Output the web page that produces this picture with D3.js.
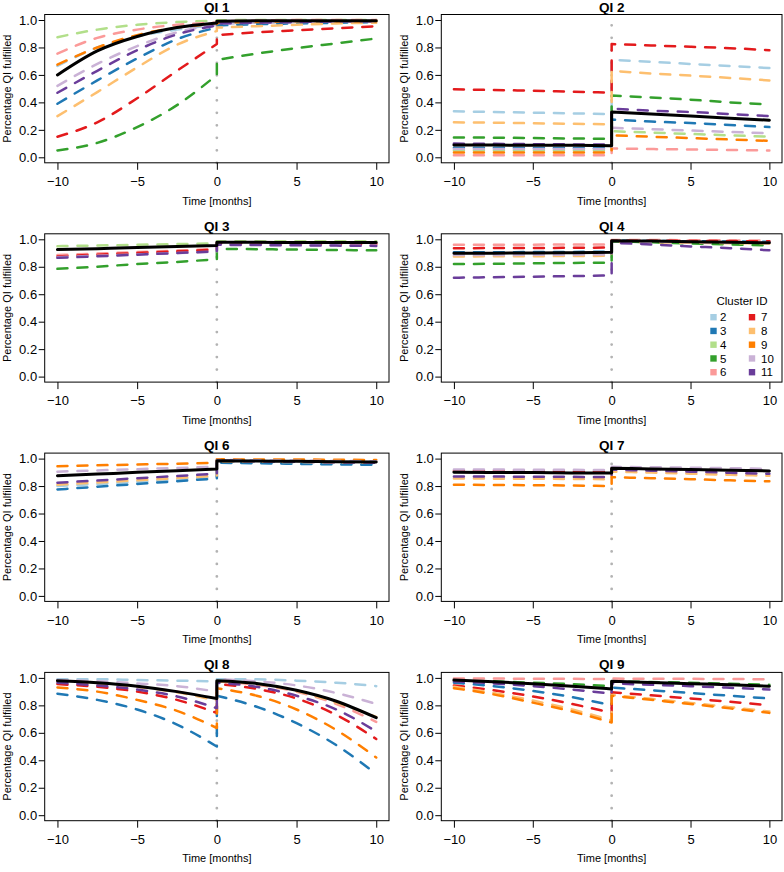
<!DOCTYPE html>
<html>
<head>
<meta charset="utf-8">
<script src="https://cdn.jsdelivr.net/npm/d3@7"></script>
<style>
  body { margin: 0; background: #fff; }
  text { font-family: "Liberation Sans", Arial, Helvetica, sans-serif; fill: #000; }
</style>
</head>
<body>
<svg id="chart"></svg>
<script>
// time points of the read-off values, before and after the change at t = 0
var timePre = [-10, -7.5, -5, -2.5, 0];
var timePost = [0, 2.5, 5, 7.5, 10];

var clusterIds = [2, 3, 4, 5, 6, 7, 8, 9, 10, 11];
var clusterColors = ["#a6cee3", "#1f78b4", "#b2df8a", "#33a02c", "#fb9a99",
                     "#e31a1c", "#fdbf6f", "#ff7f00", "#cab2d6", "#6a3d9a"];

var panelTitles = ["QI 1", "QI 2", "QI 3", "QI 4", "QI 6", "QI 7", "QI 8", "QI 9"];
var xTicks = [-10, -5, 0, 5, 10];
var yTicks = [0, 0.2, 0.4, 0.6, 0.8, 1.0];

// [cluster, values before, values after]; "all" = overall (black) line
var qi1 = [
  [2,  [0.665, 0.80, 0.88, 0.93, 0.965], [0.975, 0.98, 0.985, 0.99, 0.99]],
  [3,  [0.39, 0.56, 0.72, 0.86, 0.945],  [0.96, 0.97, 0.975, 0.98, 0.985]],
  [4,  [0.875, 0.93, 0.965, 0.985, 0.995], [0.998, 1.0, 1.0, 1.0, 1.0]],
  [5,  [0.05, 0.105, 0.22, 0.38, 0.60],  [0.71, 0.755, 0.795, 0.83, 0.865]],
  [6,  [0.755, 0.87, 0.93, 0.965, 0.98], [0.99, 0.995, 1.0, 1.0, 1.0]],
  [7,  [0.15, 0.255, 0.43, 0.63, 0.825], [0.89, 0.91, 0.925, 0.94, 0.955]],
  [8,  [0.30, 0.475, 0.655, 0.82, 0.92], [0.945, 0.955, 0.965, 0.975, 0.98]],
  [9,  [0.675, 0.80, 0.89, 0.945, 0.97], [0.98, 0.985, 0.99, 0.99, 0.99]],
  [10, [0.52, 0.68, 0.81, 0.91, 0.965],  [0.975, 0.98, 0.985, 0.99, 0.99]],
  [11, [0.47, 0.63, 0.78, 0.895, 0.96],  [0.975, 0.98, 0.985, 0.99, 0.99]],
  ["all", [0.60, 0.775, 0.88, 0.945, 0.978], [0.99, 0.994, 0.995, 0.995, 0.995]]
];

var qi2 = [
  [2,  [0.335, 0.33, 0.325, 0.32, 0.315], [0.71, 0.695, 0.68, 0.665, 0.65]],
  [3,  [0.07, 0.07, 0.068, 0.067, 0.065], [0.275, 0.26, 0.25, 0.235, 0.22]],
  [4,  [0.05, 0.05, 0.05, 0.05, 0.05],    [0.19, 0.18, 0.17, 0.16, 0.15]],
  [5,  [0.145, 0.143, 0.14, 0.137, 0.135], [0.45, 0.435, 0.42, 0.40, 0.385]],
  [6,  [0.015, 0.015, 0.015, 0.015, 0.015], [0.065, 0.06, 0.057, 0.053, 0.05]],
  [7,  [0.495, 0.49, 0.485, 0.478, 0.47], [0.825, 0.815, 0.805, 0.795, 0.78]],
  [8,  [0.255, 0.252, 0.248, 0.244, 0.24], [0.63, 0.61, 0.595, 0.578, 0.56]],
  [9,  [0.035, 0.035, 0.035, 0.035, 0.035], [0.16, 0.15, 0.14, 0.13, 0.12]],
  [10, [0.06, 0.06, 0.06, 0.06, 0.06],    [0.215, 0.205, 0.195, 0.185, 0.175]],
  [11, [0.10, 0.098, 0.096, 0.094, 0.092], [0.355, 0.34, 0.33, 0.315, 0.30]],
  ["all", [0.09, 0.089, 0.088, 0.087, 0.085], [0.33, 0.315, 0.30, 0.285, 0.27]]
];

var qi3 = [
  [4,  [0.95, 0.955, 0.96, 0.965, 0.97],  [0.985, 0.985, 0.985, 0.985, 0.985]],
  [5,  [0.785, 0.80, 0.82, 0.835, 0.855], [0.93, 0.928, 0.925, 0.922, 0.92]],
  [6,  [0.885, 0.896, 0.907, 0.918, 0.93], [0.975, 0.974, 0.973, 0.972, 0.97]],
  [7,  [0.875, 0.888, 0.90, 0.912, 0.925], [0.97, 0.97, 0.968, 0.967, 0.965]],
  [10, [0.87, 0.88, 0.89, 0.90, 0.91],    [0.962, 0.96, 0.958, 0.956, 0.955]],
  [11, [0.865, 0.876, 0.888, 0.90, 0.912], [0.96, 0.958, 0.956, 0.954, 0.952]],
  ["all", [0.925, 0.932, 0.94, 0.947, 0.955], [0.978, 0.978, 0.977, 0.977, 0.976]]
];

var qi4 = [
  [3,  [0.905, 0.906, 0.907, 0.908, 0.91], [0.99, 0.988, 0.986, 0.984, 0.982]],
  [5,  [0.82, 0.822, 0.825, 0.828, 0.83],  [0.985, 0.978, 0.97, 0.962, 0.955]],
  [6,  [0.96, 0.96, 0.961, 0.962, 0.963],  [0.995, 0.995, 0.993, 0.992, 0.99]],
  [7,  [0.935, 0.936, 0.937, 0.938, 0.94], [0.99, 0.99, 0.988, 0.987, 0.985]],
  [8,  [0.875, 0.876, 0.877, 0.878, 0.88], [0.98, 0.977, 0.975, 0.972, 0.97]],
  [10, [0.885, 0.886, 0.887, 0.888, 0.89], [0.985, 0.982, 0.98, 0.977, 0.975]],
  [11, [0.72, 0.724, 0.728, 0.732, 0.737], [0.975, 0.962, 0.948, 0.935, 0.92]],
  ["all", [0.898, 0.899, 0.90, 0.902, 0.905], [0.99, 0.987, 0.983, 0.979, 0.975]]
];

var qi6 = [
  [2,  [0.80, 0.815, 0.83, 0.848, 0.865],  [0.975, 0.97, 0.965, 0.96, 0.96]],
  [3,  [0.775, 0.795, 0.815, 0.835, 0.855], [0.97, 0.966, 0.962, 0.958, 0.955]],
  [8,  [0.81, 0.826, 0.842, 0.858, 0.875],  [0.98, 0.978, 0.975, 0.972, 0.97]],
  [9,  [0.945, 0.951, 0.957, 0.963, 0.97],  [0.995, 0.994, 0.993, 0.992, 0.99]],
  [10, [0.905, 0.914, 0.923, 0.932, 0.94],  [0.99, 0.988, 0.985, 0.983, 0.98]],
  [11, [0.825, 0.84, 0.857, 0.873, 0.89],   [0.985, 0.98, 0.977, 0.973, 0.97]],
  ["all", [0.875, 0.887, 0.90, 0.912, 0.925], [0.985, 0.982, 0.98, 0.977, 0.975]]
];

var qi7 = [
  [7,  [0.91, 0.909, 0.908, 0.907, 0.905], [0.93, 0.926, 0.922, 0.918, 0.915]],
  [8,  [0.855, 0.854, 0.853, 0.852, 0.85], [0.905, 0.898, 0.89, 0.882, 0.875]],
  [9,  [0.81, 0.808, 0.806, 0.804, 0.80],  [0.865, 0.857, 0.85, 0.842, 0.835]],
  [10, [0.92, 0.92, 0.919, 0.918, 0.917],  [0.94, 0.937, 0.934, 0.93, 0.926]],
  [11, [0.87, 0.869, 0.868, 0.867, 0.865], [0.92, 0.912, 0.905, 0.897, 0.89]],
  ["all", [0.90, 0.899, 0.898, 0.896, 0.895], [0.93, 0.925, 0.92, 0.915, 0.91]]
];

var qi8 = [
  [2,  [0.99, 0.99, 0.985, 0.98, 0.975],  [0.99, 0.99, 0.98, 0.965, 0.94]],
  [3,  [0.885, 0.84, 0.77, 0.66, 0.50],   [0.87, 0.79, 0.67, 0.51, 0.30]],
  [6,  [0.975, 0.96, 0.935, 0.90, 0.84],  [0.975, 0.95, 0.90, 0.81, 0.68]],
  [7,  [0.955, 0.935, 0.90, 0.84, 0.745], [0.955, 0.92, 0.85, 0.73, 0.555]],
  [8,  [0.975, 0.96, 0.935, 0.895, 0.835], [0.975, 0.955, 0.905, 0.82, 0.715]],
  [9,  [0.93, 0.90, 0.84, 0.76, 0.635],   [0.925, 0.87, 0.77, 0.62, 0.42]],
  [10, [0.985, 0.975, 0.96, 0.94, 0.90],  [0.99, 0.975, 0.945, 0.89, 0.81]],
  [11, [0.965, 0.945, 0.915, 0.865, 0.78], [0.965, 0.935, 0.87, 0.77, 0.61]],
  ["all", [0.98, 0.965, 0.94, 0.90, 0.85], [0.98, 0.96, 0.91, 0.83, 0.71]]
];

var qi9 = [
  [3,  [0.965, 0.94, 0.905, 0.86, 0.80],  [0.93, 0.91, 0.89, 0.87, 0.85]],
  [5,  [0.98, 0.975, 0.965, 0.955, 0.94], [0.975, 0.97, 0.965, 0.958, 0.95]],
  [6,  [0.995, 0.995, 0.994, 0.993, 0.992], [0.995, 0.994, 0.993, 0.992, 0.99]],
  [7,  [0.945, 0.91, 0.865, 0.81, 0.745], [0.895, 0.873, 0.85, 0.826, 0.80]],
  [8,  [0.935, 0.89, 0.835, 0.77, 0.69],  [0.875, 0.848, 0.818, 0.787, 0.755]],
  [9,  [0.925, 0.88, 0.82, 0.755, 0.675], [0.87, 0.84, 0.81, 0.778, 0.745]],
  [11, [0.975, 0.96, 0.94, 0.915, 0.885], [0.96, 0.95, 0.94, 0.928, 0.915]],
  ["all", [0.985, 0.972, 0.958, 0.94, 0.92], [0.975, 0.967, 0.958, 0.95, 0.94]]
];

var panels = [qi1, qi2, qi3, qi4, qi6, qi7, qi8, qi9];

function init(){
    var width = 784;
    var height = 872;
    var svg = d3.select("#chart").attr("width", width).attr("height", height);

    var color = d3.scaleOrdinal().domain(clusterIds).range(clusterColors);

    // plot boxes of the two columns, rows are 219.3px apart
    var cols = [{left: 44.7, right: 389}, {left: 441.3, right: 782}];
    var rowStep = 219.3;

    panels.forEach(function(rows, p){
        var c = cols[p % 2];
        var top = Math.floor(p / 2) * rowStep;
        var boxTop = top + 14.5, boxBottom = top + 162.8;

        // R style 4% padding round the data range
        var padX = (c.right - c.left) * 0.04 / 1.08;
        var x = d3.scaleLinear().domain([-10, 10]).range([c.left + padX, c.right - padX]);
        var y = d3.scaleLinear().domain([0, 1]).range([top + 157.3, top + 20]);

        var g = svg.append("g");

        // vertical dotted marker at t = 0
        g.append("line")
            .attr("x1", x(0)).attr("x2", x(0))
            .attr("y1", boxBottom).attr("y2", boxTop)
            .attr("stroke", "#b3b3b3")
            .attr("stroke-width", 2.8)
            .attr("stroke-linecap", "round")
            .attr("stroke-dasharray", "0 12.5");

        var line = d3.line()
            .x(function(d){ return x(d[0]); })
            .y(function(d){ return y(d[1]); })
            .curve(d3.curveMonotoneX);

        rows.forEach(function(r){
            var pre = r[1].map(function(v, i){ return [timePre[i], v]; });
            var post = r[2].map(function(v, i){ return [timePost[i], v]; });
            var d = line(pre) + line(post).replace("M", "L");
            var isAll = r[0] === "all";
            g.append("path")
                .attr("d", d)
                .attr("fill", "none")
                .attr("stroke", isAll ? "#000" : color(r[0]))
                .attr("stroke-width", isAll ? 3 : 2.5)
                .attr("stroke-linecap", "round")
                .attr("stroke-linejoin", "round")
                .attr("stroke-dasharray", isAll ? null : "10 10");
        });

        // box
        g.append("rect")
            .attr("x", c.left).attr("y", boxTop)
            .attr("width", c.right - c.left).attr("height", boxBottom - boxTop)
            .attr("fill", "none").attr("stroke", "#000").attr("stroke-width", 1);

        var xAxis = g.append("g")
            .attr("transform", "translate(0," + boxBottom + ")")
            .call(d3.axisBottom(x).tickValues(xTicks).tickSize(7).tickPadding(7));
        var yAxis = g.append("g")
            .attr("transform", "translate(" + c.left + ",0)")
            .call(d3.axisLeft(y).tickValues(yTicks).tickFormat(d3.format(".1f")).tickSize(6).tickPadding(1.5));
        [xAxis, yAxis].forEach(function(a){
            a.select(".domain").remove();
            a.selectAll(".tick line").attr("stroke", "#000");
            a.selectAll("text").attr("font-size", "13px")
                .attr("font-family", "'Liberation Sans', Arial, sans-serif").attr("fill", "#000");
        });

        var cx = (c.left + c.right) / 2;
        g.append("text")
            .attr("x", cx).attr("y", top + 11.5)
            .attr("text-anchor", "middle")
            .attr("font-size", "13.5px").attr("font-weight", "bold")
            .text(panelTitles[p]);

        g.append("text")
            .attr("x", cx).attr("y", top + 204.5)
            .attr("text-anchor", "middle")
            .attr("font-size", "11px")
            .text("Time [months]");

        g.append("text")
            .attr("transform", "translate(" + (c.left - 33.3) + "," + ((boxTop + boxBottom) / 2) + ") rotate(-90)")
            .attr("text-anchor", "middle")
            .attr("font-size", "11px")
            .text("Percentage QI fulfilled");

        //legend in the QI 4 panel
        if(p == 3){
            var leg = svg.append("g");
            leg.append("text")
                .attr("x", 742).attr("y", top + 85.4)
                .attr("text-anchor", "middle")
                .attr("font-size", "11.5px")
                .text("Cluster ID");
            var item = leg.selectAll("g.item")
                .data(clusterIds)
                .enter()
                .append("g")
                .attr("transform", function(d, i){
                    var lx = i < 5 ? 713.5 : 752;
                    var ly = top + 102 + (i % 5) * 13.75;
                    return "translate(" + lx + "," + ly + ")";
                });
            item.append("rect")
                .attr("x", -3.2).attr("y", -7.3)
                .attr("width", 6.4).attr("height", 6.4)
                .attr("fill", function(d){ return color(d); });
            item.append("text")
                .attr("x", function(d, i){ return i < 5 ? 6.5 : 9; })
                .attr("font-size", "11.5px")
                .text(function(d){ return d; });
        }
    });
}
init();
</script>
</body>
</html>
